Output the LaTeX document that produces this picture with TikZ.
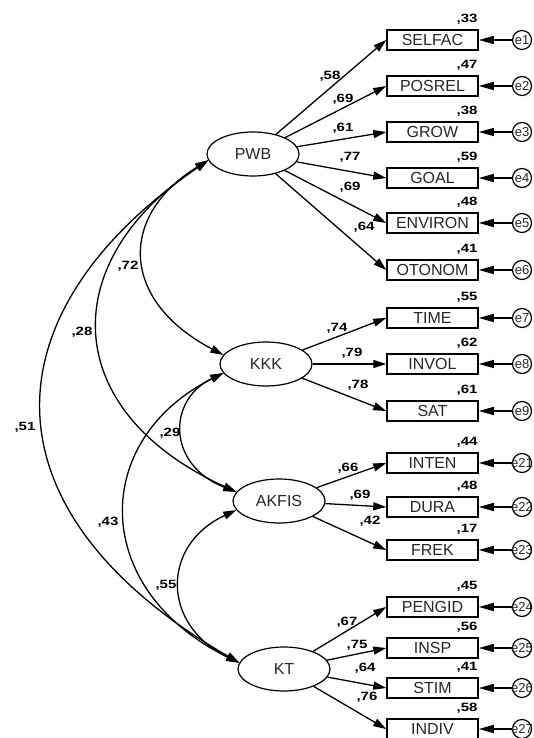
\documentclass[tikz,border=0pt]{standalone}
\usepackage{fontspec}
\setmainfont{Liberation Sans}
\newfontfamily\numfont[FakeStretch=1.25]{Liberation Sans}
\usetikzlibrary{arrows.meta,shapes.geometric}
\begin{document}
\begin{tikzpicture}[x=1pt,y=-1pt,
  lat/.style={ellipse, draw, line width=1.2pt, minimum width=92pt, minimum height=44pt, inner sep=0pt, text=black!85, font=\fontsize{16}{18}\selectfont},
  obs/.style={rectangle, draw, line width=1.5pt, minimum width=91pt, minimum height=20pt, inner sep=0pt, text=black!85, font=\fontsize{16}{18}\selectfont},
  err/.style={circle, draw, line width=1.2pt, minimum size=19pt, inner sep=0pt},
  errlab/.style={font=\fontsize{13}{15}\selectfont, inner sep=0pt, text=black!85},
  num/.style={font=\numfont\bfseries\fontsize{12}{14}\selectfont, inner sep=0pt},
  load/.style={-{Triangle[length=13pt,width=8pt]}, line width=1.3pt},
  erar/.style={-{Triangle[length=15pt,width=8pt]}, line width=1.3pt},
  cov/.style={{Triangle[length=13pt,width=8pt]}-{Triangle[length=13pt,width=8pt]}, line width=1.3pt},
]
\useasboundingbox (0,0) rectangle (534,738);

% latent variables
\node[lat] (PWB) at (253,154) {PWB};
\node[lat] (KKK) at (266,364) {KKK};
\node[lat] (AKFIS) at (279,501) {AKFIS};
\node[lat] (KT) at (284,669) {KT};

% observed variables, errors, R2
\foreach \n/\y/\e/\r in {SELFAC/40/e1/33, POSREL/86/e2/47, GROW/132/e3/38, GOAL/178/e4/59, ENVIRON/223/e5/48, OTONOM/270/e6/41, TIME/318/e7/55, INVOL/364/e8/62, SAT/411/e9/61, INTEN/463/e21/44, DURA/507/e22/48, FREK/550/e23/17, PENGID/607/e24/45, INSP/648/e25/56, STIM/688/e26/41, INDIV/729/e27/58}{
  \node[obs] (\n) at (432.5,\y) {\n};
  \node[err] (\e) at (522,\y) {};
  \node[errlab] (\e lab) at (522,\y) {\e};
  \node[num, anchor=south east] (r\n) at ([xshift=-1pt,yshift=5pt]\n.north east) {,\r};
  \draw[erar] (\e) -- (\n);
}

% loadings
\draw[load] (PWB) -- (SELFAC.west);
\draw[load] (PWB) -- (POSREL.west);
\draw[load] (PWB) -- (GROW.west);
\draw[load] (PWB) -- (GOAL.west);
\draw[load] (PWB) -- (ENVIRON.west);
\draw[load] (PWB) -- (OTONOM.west);
\draw[load] (KKK) -- (TIME.west);
\draw[load] (KKK) -- (INVOL.west);
\draw[load] (KKK) -- (SAT.west);
\draw[load] (AKFIS) -- (INTEN.west);
\draw[load] (AKFIS) -- (DURA.west);
\draw[load] (AKFIS) -- (FREK.west);
\draw[load] (KT) -- (PENGID.west);
\draw[load] (KT) -- (INSP.west);
\draw[load] (KT) -- (STIM.west);
\draw[load] (KT) -- (INDIV.west);

\node[num] (l1) at (330,76) {,58};
\node[num] (l2) at (343,99) {,69};
\node[num] (l3) at (343,128) {,61};
\node[num] (l4) at (350,157) {,77};
\node[num] (l5) at (350,187) {,69};
\node[num] (l6) at (364,227) {,64};
\node[num] (l7) at (337,328) {,74};
\node[num] (l8) at (352,353) {,79};
\node[num] (l9) at (358,385) {,78};
\node[num] (l10) at (348,468) {,66};
\node[num] (l11) at (360,495) {,69};
\node[num] (l12) at (370,521) {,42};
\node[num] (l13) at (347,622) {,67};
\node[num] (l14) at (357,645) {,75};
\node[num] (l15) at (365,668) {,64};
\node[num] (l16) at (367,697) {,76};

% covariances
\draw[cov] (PWB.188) .. controls (119,215) and (119,300) .. (KKK.168);
\draw[cov] (PWB.188) .. controls (57,260) and (57,410) .. (AKFIS.168);
\draw[cov] (PWB.188) .. controls (-18,316) and (-18,514) .. (KT.172);
\draw[cov] (KKK.192) .. controls (167,400) and (167,465) .. (AKFIS.168);
\draw[cov] (KKK.192) .. controls (90,440) and (90,590) .. (KT.172);
\draw[cov] (AKFIS.192) .. controls (161,545) and (161,625) .. (KT.172);

\node[num] (c1) at (128,266) {,72};
\node[num] (c2) at (82,332) {,28};
\node[num] (c3) at (25,427) {,51};
\node[num] (c4) at (170,433) {,29};
\node[num] (c5) at (108,522) {,43};
\node[num] (c6) at (166,585) {,55};
\end{tikzpicture}
\end{document}
